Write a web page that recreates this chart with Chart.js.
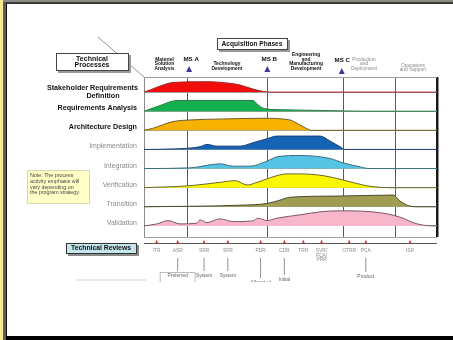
<!DOCTYPE html>
<html>
<head>
<meta charset="utf-8">
<script src="https://cdn.jsdelivr.net/npm/chart.js@4/dist/chart.umd.min.js"></script>
<style>
  html, body { margin: 0; padding: 0; background: #fff; }
  canvas { display: block; }
</style>
</head>
<body>
<canvas id="c" width="453" height="340"></canvas>
<script>
// Technical processes, top to bottom
const processLabels = [
  ['Stakeholder Requirements', 'Definition'],
  ['Requirements Analysis'],
  ['Architecture Design'],
  ['Implementation'],
  ['Integration'],
  ['Verification'],
  ['Transition'],
  ['Validation']
];
const processColors = ['#f20d0d', '#12b04e', '#f7b200', '#1463b5', '#55c3e4', '#fbf700', '#a09c52', '#f7b6c9'];
const processEdges  = ['#a02828', '#2f7a48', '#6e5f2a', '#1d3f78', '#3d6f82', '#6d6a2c', '#4a4a2c', '#7a5a68'];

// Activity emphasis over the life cycle: [time, level]
const stakeholderDefinition = [[0,0],[2,2],[5.5,6],[9.9,9.5],[21.5,10.3],[29.4,8.7],[32.8,7],[37.2,3],[40.6,0.7],[43,0],[100,0]];
const requirementsAnalysis  = [[0,0],[2,2],[5.5,5.7],[11.3,10.7],[37.2,10.7],[38.9,6.4],[41,2.7],[46.4,1.5],[60,0.8],[67.9,0.3],[75,0],[100,0]];
const architectureDesign    = [[0,0],[3,2],[9.9,8.7],[15.7,10.3],[27,11.3],[40.6,12],[49.8,10.3],[52.2,7],[54.3,3.7],[56,1],[57,0],[100,0]];
const implementation        = [[0,0],[10,0.5],[19.1,2.7],[21.5,5],[24.9,3.3],[32.8,3.3],[37.2,6.7],[42,10.7],[45.4,13.3],[60.1,13.3],[63.5,8.3],[66.9,2.7],[68.6,0],[100,0]];
const integration           = [[0,0],[15.7,0.7],[25.9,4.7],[30.4,2.4],[36.2,2.4],[42,7.4],[45.4,11.7],[53.2,13],[63.5,10],[67.9,5.7],[72.7,2.4],[77.1,0],[100,0]];
const verification          = [[0,0],[15.7,2],[25.9,5.3],[31.1,7],[35.2,2.7],[38.6,5.3],[45.4,12],[48.8,13.7],[53.2,13.7],[61.1,12],[67.9,7.7],[74.7,2.7],[78.2,1],[84,0],[100,0]];
const transition            = [[0,0],[32.8,1.6],[42,3.3],[46.4,6.6],[49.8,9.5],[66.9,10.7],[85,11.7],[87.4,5.7],[89.8,1.6],[93.2,0],[100,0]];
const validation            = [[0,0],[4.4,2],[8.2,5.3],[12.3,2],[18.1,2.7],[19.1,6],[21.5,3.3],[25.9,7],[30.4,4.3],[37.2,5],[38.9,7.7],[42,5.3],[45.4,7.7],[53.2,11],[61.1,14.3],[67.9,15],[81.6,12.7],[88.4,7.7],[91.8,3.3],[96.6,0.3],[100,0]];
const processSeries = [stakeholderDefinition, requirementsAnalysis, architectureDesign, implementation, integration, verification, transition, validation];

// Acquisition phases and milestones
const phaseBounds  = [0, 15, 42, 68, 86, 100];
const phaseNames   = [['Materiel','Solution','Analysis'], ['Technology','Development'], ['Engineering','and','Manufacturing','Development'], ['Production','and','Deployment'], ['Operations','and Support']];
const phaseCenters = [7.0, 28.3, 55.3, 75.1, 91.8];
const milestoneNames = ['MS A', 'MS B', 'MS C'];
const milestoneAt    = [15.4, 42.1, 67.5];

// Technical reviews and baselines
const reviewNames   = [['ITR'], ['ASR'], ['SRR'], ['SFR'], ['PDR'], ['CDR'], ['TRR'], ['SVR/','FCA/','PRR'], ['OTRR'], ['PCA'], ['ISR']];
const reviewAt      = [4.3, 11.5, 20.5, 28.6, 39.8, 47.9, 54.4, 60.6, 70.0, 75.7, 90.8];
const reviewOutputs = ['', 'Preferred', 'System', 'System', 'Allocated', 'Initial', '', '', '', 'Product', ''];

const LANE = 19;                        // vertical spacing of the process lanes
const laneBase = i => (processSeries.length - 1 - i) * LANE;
const FONT = '"Liberation Sans", Arial, sans-serif';

const datasets = processSeries.map((pts, i) => ({
  label: processLabels[i].join(' '),
  data: pts.map(p => ({ x: p[0], y: laneBase(i) + p[1] })),
  backgroundColor: processColors[i],
  borderColor: processEdges[i],
  borderWidth: 1,
  pointRadius: 0,
  cubicInterpolationMode: 'monotone',
  fill: { value: laneBase(i) }
}));

function box(ctx, x, y, w, h, fill, stroke, shadow) {
  if (shadow) { ctx.fillStyle = shadow; ctx.fillRect(x + 2, y + 2, w, h); }
  ctx.fillStyle = fill; ctx.fillRect(x, y, w, h);
  ctx.strokeStyle = stroke; ctx.lineWidth = 1; ctx.strokeRect(x + 0.5, y + 0.5, w - 1, h - 1);
}
function lines(ctx, arr, x, y, lh) {
  arr.forEach((t, k) => ctx.fillText(t, x, y + k * lh));
}
function tri(ctx, x, y, w, h, color) {
  ctx.fillStyle = color;
  ctx.beginPath(); ctx.moveTo(x - w / 2, y + h / 2); ctx.lineTo(x + w / 2, y + h / 2); ctx.lineTo(x, y - h / 2); ctx.closePath(); ctx.fill();
}

const frame = {
  id: 'frame',
  beforeDraw(chart) {
    const ctx = chart.ctx, W = chart.width, H = chart.height;
    ctx.save();
    ctx.fillStyle = '#fff'; ctx.fillRect(0, 0, W, H);
    ctx.fillStyle = '#8c8c84'; ctx.fillRect(0, 0, W, 2);
    ctx.fillStyle = '#3c3c3c'; ctx.fillRect(0, 2, W, 2);
    ctx.fillStyle = '#f6ea8e'; ctx.fillRect(0, 0, 3, H);
    ctx.fillStyle = '#5c5c5c'; ctx.fillRect(3, 2, 3, H);
    ctx.fillStyle = '#111';    ctx.fillRect(6, 3, 1, H);
    ctx.fillStyle = '#000';    ctx.fillRect(6, H - 4, W, 4);
    ctx.restore();
  },
  afterDraw(chart) {
    const ctx = chart.ctx, xs = chart.scales.x, ys = chart.scales.y, ca = chart.chartArea;
    ctx.save();
    ctx.textAlign = 'center'; ctx.textBaseline = 'middle';

    // header boxes
    ctx.strokeStyle = '#777'; ctx.lineWidth = 0.8;
    ctx.beginPath(); ctx.moveTo(98, 37); ctx.lineTo(ca.left, ca.top); ctx.stroke();
    box(ctx, 56, 53, 73, 18, '#fff', '#444', '#9a9a9a');
    ctx.fillStyle = '#111'; ctx.font = 'bold 7px ' + FONT;
    lines(ctx, ['Technical', 'Processes'], 92, 58.8, 6.4);
    box(ctx, 217, 38, 71, 12, '#fff', '#444', '#9a9a9a');
    ctx.fillStyle = '#111'; ctx.font = 'bold 6.6px ' + FONT;
    ctx.fillText('Acquisition Phases', 252, 44);

    // phase names
    phaseNames.forEach((arr, i) => {
      const gray = i >= 3;
      ctx.fillStyle = gray ? '#8a8a8a' : '#111';
      ctx.font = (gray ? '' : 'bold ') + '4.9px ' + FONT;
      const bottom = i === 4 ? 70 : 68.5;
      lines(ctx, arr, xs.getPixelForValue(phaseCenters[i]), bottom - (arr.length - 1) * 4.6, 4.6);
    });
    // milestones
    milestoneNames.forEach((m, i) => {
      const x = xs.getPixelForValue(milestoneAt[i]);
      ctx.fillStyle = '#111'; ctx.font = 'bold 6.2px ' + FONT;
      ctx.fillText(m, x + (i === 2 ? 0.5 : 2), i === 2 ? 60 : 59);
      tri(ctx, x, i === 2 ? 71 : 69, 6, 6, '#3b3a96');
    });

    // process labels
    processLabels.forEach((arr, i) => {
      const y = ys.getPixelForValue(laneBase(i)) - 3;
      const strong = i < 3;
      ctx.fillStyle = strong ? '#111' : '#8a8a8a';
      ctx.font = (strong ? 'bold 7.2px ' : '7px ') + FONT;
      if (arr.length === 2) {
        ctx.textAlign = 'right'; ctx.fillText(arr[0], 138, y - 1);
        ctx.textAlign = 'center'; ctx.fillText(arr[1], 103, y + 7);
      } else {
        ctx.textAlign = 'right'; ctx.fillText(arr[0], 137, y);
      }
    });
    ctx.textAlign = 'center';

    // note
    box(ctx, 27, 170, 63, 34, '#ffffc6', '#d8d8b0', null);
    ctx.fillStyle = '#444'; ctx.font = '5.3px ' + FONT; ctx.textAlign = 'left';
    lines(ctx, ['Note: The process', 'activity emphasis will', 'vary depending on', 'the program strategy.'], 30, 175.5, 5.8);
    ctx.textAlign = 'center';

    // technical reviews row
    box(ctx, 66, 243, 71, 11, '#c4e6ec', '#333', '#8a8a8a');
    ctx.fillStyle = '#111'; ctx.font = 'bold 6.8px ' + FONT;
    ctx.fillText('Technical Reviews', 101, 248.5);
    ctx.strokeStyle = '#555'; ctx.lineWidth = 1.2;
    ctx.beginPath(); ctx.moveTo(ca.left, 243.5); ctx.lineTo(ca.right, 243.5); ctx.stroke();

    ctx.beginPath(); ctx.rect(0, 0, chart.width, 282); ctx.clip();
    ctx.strokeStyle = '#c8c8c8'; ctx.lineWidth = 0.8;
    ctx.beginPath(); ctx.moveTo(76, 280); ctx.lineTo(146, 280); ctx.stroke();
    reviewNames.forEach((arr, i) => {
      const x = xs.getPixelForValue(reviewAt[i]);
      tri(ctx, x, 241.5, 3, 4, '#d03a3a');
      ctx.fillStyle = '#8a8a8a'; ctx.font = '4.9px ' + FONT;
      lines(ctx, arr, x, 251, 4.2);
      const out = reviewOutputs[i];
      if (out) {
        const ly = out === 'Allocated' ? 278 : (out === 'Initial' ? 275 : (out === 'Product' ? 272 : 271));
        ctx.strokeStyle = '#777'; ctx.lineWidth = 0.8;
        ctx.beginPath(); ctx.moveTo(x, 258); ctx.lineTo(x, ly); ctx.stroke();
        if (out === 'Preferred') box(ctx, x - 18, 272, 36, 14, '#fff', '#bbb', null);
        ctx.fillStyle = '#666'; ctx.font = '4.9px ' + FONT;
        ctx.fillText(out, x, ly + 5);
      }
    });
    ctx.restore();
  }
};

new Chart(document.getElementById('c'), {
  type: 'line',
  data: { datasets },
  plugins: [frame],
  options: {
    responsive: false,
    animation: false,
    events: [],
    layout: { padding: { left: 144, right: 16, top: 77, bottom: 103 } },
    plugins: { legend: { display: false }, tooltip: { enabled: false } },
    scales: {
      x: {
        type: 'linear', min: 0, max: 100,
        afterBuildTicks: s => { s.ticks = phaseBounds.map(v => ({ value: v })); },
        ticks: { display: false },
        border: { display: false },
        grid: {
          drawTicks: false,
          color: c => c.tick.value === 100 ? '#1a1a1a' : (c.tick.value === 0 ? '#8a8a8a' : '#5a5a5a'),
          lineWidth: c => c.tick.value === 100 ? 2.5 : 1
        }
      },
      y: {
        type: 'linear', min: -11, max: 148,
        afterBuildTicks: s => {
          const v = [-11, 148];
          processSeries.forEach((p, i) => v.push(laneBase(i)));
          s.ticks = v.sort((a, b) => a - b).map(t => ({ value: t }));
        },
        ticks: { display: false },
        border: { display: false },
        grid: { drawTicks: false, color: '#a0a0a0', lineWidth: 1 }
      }
    }
  }
});
</script>
</body>
</html>
